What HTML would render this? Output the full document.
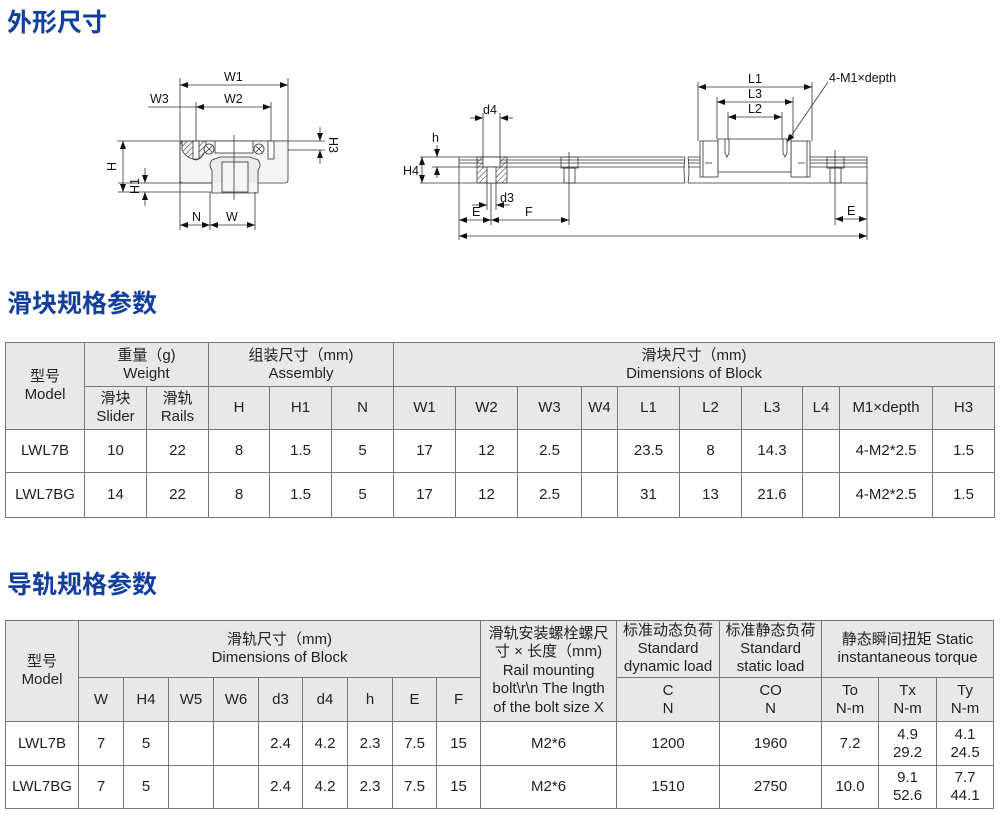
<!DOCTYPE html>
<html><head><meta charset="utf-8">
<style>
*{margin:0;padding:0;box-sizing:border-box}
body{width:1000px;height:814px;background:#fff;position:relative;overflow:hidden;font-family:"Liberation Sans","Noto Sans CJK SC",sans-serif;color:#222}
.t{position:absolute;left:7px;font-family:"Noto Sans CJK SC","WenQuanYi Zen Hei",sans-serif;font-weight:bold;font-size:25px;color:#123f9c;line-height:1}
table{position:absolute;border-collapse:collapse;table-layout:fixed;font-family:"Liberation Sans","Noto Sans CJK SC",sans-serif;font-size:15px}
td{border:1px solid #777;text-align:center;vertical-align:middle;line-height:18px;padding:0;overflow:hidden;white-space:nowrap}
td.h{background:#e8e8e8}
svg{position:absolute;left:0;top:0}
svg text{font-family:"Liberation Sans",sans-serif;font-size:12.5px;fill:#111}
</style></head><body>
<div class="t" style="top:9px">外形尺寸</div>
<div class="t" style="top:290px">滑块规格参数</div>
<div class="t" style="top:571px">导轨规格参数</div>

<svg width="1000" height="260" viewBox="0 0 1000 260">
<defs>
<marker id="a" markerWidth="8" markerHeight="6" refX="8" refY="3" orient="auto-start-reverse" markerUnits="userSpaceOnUse"><path d="M0,0 L8,3 L0,6z" fill="#111"/></marker>
<pattern id="hat" width="4" height="4" patternUnits="userSpaceOnUse" patternTransform="rotate(45)"><line x1="0" y1="0" x2="0" y2="4" stroke="#333" stroke-width="1"/></pattern>
</defs>
<g stroke="#333" stroke-width="0.8" fill="none">
<!-- left drawing -->
<line x1="180" y1="78" x2="180" y2="230"/><line x1="288" y1="78" x2="288" y2="145"/>
<line x1="180" y1="85" x2="288" y2="85" marker-start="url(#a)" marker-end="url(#a)"/>
<line x1="196" y1="102" x2="196" y2="165"/><line x1="271" y1="102" x2="271" y2="165"/>
<line x1="148" y1="107" x2="196" y2="107"/>
<line x1="196" y1="107" x2="271" y2="107" marker-start="url(#a)" marker-end="url(#a)"/>
<line x1="117" y1="141" x2="325" y2="141"/><line x1="280" y1="150" x2="325" y2="150"/>
<line x1="320" y1="127" x2="320" y2="141" marker-end="url(#a)"/><line x1="320" y1="164" x2="320" y2="150" marker-end="url(#a)"/>
<path d="M182,141 H288 V180 Q288,183 285,183 H258 V193 H212 V183 H183 Q180,183 180,180 V145z" fill="#f4f4f4"/>
<path d="M212,183 V170 Q208,165 212,160 L220,157 H250 L258,160 Q262,165 258,170 V183" fill="#ececec"/>
<rect x="222" y="162" width="26" height="30" fill="#f4f4f4"/>
<path d="M182,141 H206 Q206,158 196,160 Q186,158 182,150z" fill="url(#hat)"/>
<rect x="193" y="141" width="6" height="18" fill="#fff"/>
<rect x="268" y="141" width="6" height="18" fill="#fff"/>
<circle cx="209" cy="149" r="5" fill="#fff"/><circle cx="259" cy="149" r="5" fill="#fff"/>
<path d="M206,146 L212,152 M212,146 L206,152 M256,146 L262,152 M262,146 L256,152"/>
<rect x="215" y="141" width="38" height="12" fill="#fff"/>
<line x1="234" y1="135" x2="234" y2="200"/>
<line x1="118" y1="183" x2="212" y2="183"/><line x1="118" y1="192" x2="212" y2="192"/>
<line x1="123" y1="141" x2="123" y2="192" marker-start="url(#a)" marker-end="url(#a)"/>
<line x1="145" y1="168" x2="145" y2="183" marker-end="url(#a)"/><line x1="145" y1="206" x2="145" y2="192" marker-end="url(#a)"/>
<line x1="210" y1="192" x2="210" y2="230"/><line x1="255" y1="192" x2="255" y2="230"/>
<line x1="180" y1="225" x2="210" y2="225" marker-start="url(#a)" marker-end="url(#a)"/>
<line x1="210" y1="225" x2="255" y2="225" marker-start="url(#a)" marker-end="url(#a)"/>
<!-- right drawing rail -->
<path d="M459,157 H685 M459,160 H685 M459,163 H685 M459,167 H685 M459,183 H685 M459,157 V183 M685,157 Q683,170 685,183"/>
<path d="M688,157 H867 M688,160 H867 M688,163 H867 M688,167 H867 M688,183 H867 M867,157 V183 M688,157 Q690,170 688,183"/>
<rect x="477" y="157" width="30" height="26" fill="url(#hat)"/>
<rect x="483" y="157" width="17" height="10" fill="#fff"/>
<rect x="487" y="167" width="9" height="16" fill="#fff"/>
<line x1="483" y1="113" x2="483" y2="157"/><line x1="500" y1="113" x2="500" y2="157"/>
<line x1="470" y1="118" x2="483" y2="118" marker-end="url(#a)"/><line x1="513" y1="118" x2="500" y2="118" marker-end="url(#a)"/>
<line x1="487" y1="183" x2="487" y2="210"/><line x1="496" y1="183" x2="496" y2="210"/>
<line x1="472" y1="205" x2="487" y2="205" marker-end="url(#a)"/><line x1="510" y1="205" x2="496" y2="205" marker-end="url(#a)"/>
<rect x="561" y="157" width="17" height="11"/><rect x="564" y="168" width="11" height="15"/>
<line x1="569" y1="152" x2="569" y2="225"/>
<rect x="827" y="157" width="17" height="11"/><rect x="830" y="168" width="11" height="15"/>
<line x1="835" y1="150" x2="835" y2="225"/>
<line x1="420" y1="157" x2="459" y2="157"/><line x1="420" y1="183" x2="459" y2="183"/><line x1="432" y1="167" x2="459" y2="167"/>
<line x1="422" y1="157" x2="422" y2="183" marker-start="url(#a)" marker-end="url(#a)"/>
<line x1="437" y1="145" x2="437" y2="157" marker-end="url(#a)"/><line x1="437" y1="178" x2="437" y2="167" marker-end="url(#a)"/>
<line x1="459" y1="183" x2="459" y2="240"/><line x1="491" y1="183" x2="491" y2="225"/><line x1="867" y1="183" x2="867" y2="240"/>
<line x1="459" y1="220" x2="491" y2="220" marker-start="url(#a)" marker-end="url(#a)"/>
<line x1="491" y1="220" x2="569" y2="220" marker-start="url(#a)" marker-end="url(#a)"/>
<line x1="459" y1="236" x2="867" y2="236" marker-start="url(#a)" marker-end="url(#a)"/>
<line x1="835" y1="219" x2="867" y2="219" marker-start="url(#a)" marker-end="url(#a)"/>
<!-- block -->
<rect x="700" y="141" width="18" height="36" fill="#fff"/><rect x="791" y="141" width="19" height="36" fill="#fff"/>
<rect x="718" y="139" width="73" height="33" fill="#fff"/>
<line x1="703" y1="141" x2="703" y2="177"/><line x1="807" y1="141" x2="807" y2="177"/>
<line x1="705" y1="163" x2="712" y2="163"/><line x1="798" y1="163" x2="805" y2="163"/>
<path d="M725,139 V153 L727,157 L729,153 V139 M783,139 V153 L785,157 L787,153 V139"/>
<line x1="698" y1="82" x2="698" y2="141"/><line x1="812" y1="82" x2="812" y2="141"/>
<line x1="717" y1="97" x2="717" y2="139"/><line x1="793" y1="97" x2="793" y2="139"/>
<line x1="728" y1="112" x2="728" y2="139"/><line x1="782" y1="112" x2="782" y2="139"/>
<line x1="698" y1="87" x2="812" y2="87" marker-start="url(#a)" marker-end="url(#a)"/>
<line x1="717" y1="102" x2="793" y2="102" marker-start="url(#a)" marker-end="url(#a)"/>
<line x1="728" y1="117" x2="782" y2="117" marker-start="url(#a)" marker-end="url(#a)"/>
<line x1="828" y1="82" x2="787" y2="142" marker-end="url(#a)"/>
</g>
<text x="224" y="81">W1</text><text x="224" y="103">W2</text><text x="150" y="103">W3</text>
<text x="192" y="221">N</text><text x="226" y="221">W</text>
<text x="116" y="171" transform="rotate(-90 116 171)">H</text>
<text x="139" y="194" transform="rotate(-90 139 194)">H1</text>
<text x="329" y="137" transform="rotate(90 329 137)">H3</text>
<text x="483" y="114">d4</text><text x="500" y="202">d3</text>
<text x="432" y="142">h</text><text x="403" y="175">H4</text>
<text x="472" y="216">E</text><text x="525" y="216">F</text><text x="847" y="215">E</text>
<text x="748" y="83">L1</text><text x="748" y="98">L3</text><text x="748" y="113">L2</text>
<text x="829" y="82">4-M1×depth</text>
</svg>

<table style="left:5px;top:342px;width:989px">
<colgroup><col style="width:79px"><col style="width:62px"><col style="width:62px"><col style="width:61px"><col style="width:62px"><col style="width:62px"><col style="width:62px"><col style="width:62px"><col style="width:64px"><col style="width:36px"><col style="width:62px"><col style="width:62px"><col style="width:61px"><col style="width:37px"><col style="width:93px"><col style="width:62px"></colgroup>
<tr style="height:44px"><td class="h" rowspan="2">型号<br>Model</td><td class="h" colspan="2">重量（g)<br>Weight</td><td class="h" colspan="3">组装尺寸（mm)<br>Assembly</td><td class="h" colspan="10">滑块尺寸（mm)<br>Dimensions of Block</td></tr>
<tr style="height:43px"><td class="h">滑块<br>Slider</td><td class="h">滑轨<br>Rails</td><td class="h">H</td><td class="h">H1</td><td class="h">N</td><td class="h">W1</td><td class="h">W2</td><td class="h">W3</td><td class="h">W4</td><td class="h">L1</td><td class="h">L2</td><td class="h">L3</td><td class="h">L4</td><td class="h">M1×depth</td><td class="h">H3</td></tr>
<tr style="height:43px"><td>LWL7B</td><td>10</td><td>22</td><td>8</td><td>1.5</td><td>5</td><td>17</td><td>12</td><td>2.5</td><td></td><td>23.5</td><td>8</td><td>14.3</td><td></td><td>4-M2*2.5</td><td>1.5</td></tr>
<tr style="height:45px"><td>LWL7BG</td><td>14</td><td>22</td><td>8</td><td>1.5</td><td>5</td><td>17</td><td>12</td><td>2.5</td><td></td><td>31</td><td>13</td><td>21.6</td><td></td><td>4-M2*2.5</td><td>1.5</td></tr>
</table>

<table style="left:5px;top:620px;width:989px">
<colgroup><col style="width:73px"><col style="width:45px"><col style="width:45px"><col style="width:45px"><col style="width:45px"><col style="width:44px"><col style="width:45px"><col style="width:45px"><col style="width:44px"><col style="width:44px"><col style="width:136px"><col style="width:103px"><col style="width:102px"><col style="width:57px"><col style="width:58px"><col style="width:57px"></colgroup>
<tr style="height:57px"><td class="h" rowspan="2">型号<br>Model</td><td class="h" colspan="9">滑轨尺寸（mm)<br>Dimensions of Block</td><td class="h" rowspan="2" style="line-height:18.5px">滑轨安装螺栓螺尺<br>寸 × 长度（mm)<br>Rail mounting<br>bolt\r\n The lngth<br>of the bolt size X</td><td class="h">标准动态负荷<br>Standard<br>dynamic load</td><td class="h">标准静态负荷<br>Standard<br>static load</td><td class="h" colspan="3">静态瞬间扭矩 Static<br>instantaneous torque</td></tr>
<tr style="height:44px"><td class="h">W</td><td class="h">H4</td><td class="h">W5</td><td class="h">W6</td><td class="h">d3</td><td class="h">d4</td><td class="h">h</td><td class="h">E</td><td class="h">F</td><td class="h">C<br>N</td><td class="h">CO<br>N</td><td class="h">To<br>N-m</td><td class="h">Tx<br>N-m</td><td class="h">Ty<br>N-m</td></tr>
<tr style="height:44px"><td>LWL7B</td><td>7</td><td>5</td><td></td><td></td><td>2.4</td><td>4.2</td><td>2.3</td><td>7.5</td><td>15</td><td>M2*6</td><td>1200</td><td>1960</td><td>7.2</td><td>4.9<br>29.2</td><td>4.1<br>24.5</td></tr>
<tr style="height:43px"><td>LWL7BG</td><td>7</td><td>5</td><td></td><td></td><td>2.4</td><td>4.2</td><td>2.3</td><td>7.5</td><td>15</td><td>M2*6</td><td>1510</td><td>2750</td><td>10.0</td><td>9.1<br>52.6</td><td>7.7<br>44.1</td></tr>
</table>
</body></html>
